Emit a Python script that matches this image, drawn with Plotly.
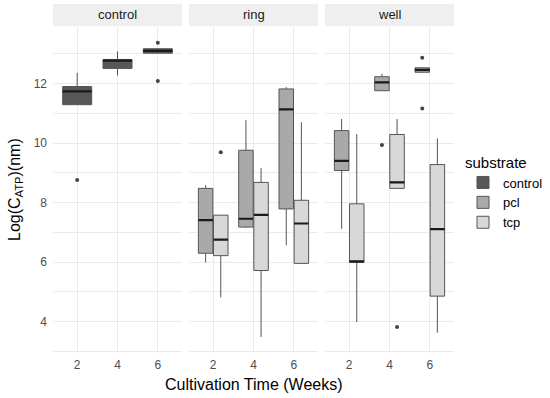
import plotly.graph_objects as go

# ---------------- data ----------------
panels = ["control", "ring", "well"]
weeks = [2, 4, 6]

# control substrate (control panel)
control_q1 = [11.29, 12.51, 13.02]
control_med = [11.74, 12.77, 13.10]
control_q3 = [11.90, 12.81, 13.17]
control_lo = [11.29, 12.27, 13.02]
control_hi = [12.36, 13.08, 13.17]
control_out = [[8.76], [], [13.37, 12.09]]

# ring panel
ring_pcl_q1 = [6.30, 7.18, 7.79]
ring_pcl_med = [7.41, 7.46, 11.13]
ring_pcl_q3 = [8.48, 9.76, 11.82]
ring_pcl_lo = [5.99, 7.15, 6.57]
ring_pcl_hi = [8.59, 10.77, 11.88]
ring_pcl_out = [[], [], []]

ring_tcp_q1 = [6.22, 5.72, 5.96]
ring_tcp_med = [6.76, 7.59, 7.30]
ring_tcp_q3 = [7.58, 8.68, 8.08]
ring_tcp_lo = [4.82, 3.49, 5.96]
ring_tcp_hi = [7.58, 9.16, 10.70]
ring_tcp_out = [[9.69], [], []]

# well panel
well_pcl_q1 = [9.08, 11.76, 12.38]
well_pcl_med = [9.40, 12.04, 12.46]
well_pcl_q3 = [10.42, 12.23, 12.53]
well_pcl_lo = [7.12, 11.76, 12.38]
well_pcl_hi = [10.81, 12.33, 12.53]
well_pcl_out = [[], [9.94], [12.87, 11.16]]

well_tcp_q1 = [5.99, 8.48, 4.86]
well_tcp_med = [6.03, 8.68, 7.11]
well_tcp_q3 = [7.96, 10.29, 9.28]
well_tcp_lo = [3.99, 8.48, 3.63]
well_tcp_hi = [10.30, 10.81, 10.16]
well_tcp_out = [[], [3.82], []]

y_ticks = [4, 6, 8, 10, 12]
x_ticks = [2, 4, 6]

fills = {"control": "#585858", "pcl": "#a9a9a9", "tcp": "#d8d8d8"}
edge = "#555555"

series = [
    ("x", "control", control_q1, control_med, control_q3, control_lo, control_hi, control_out),
    ("x2", "pcl", ring_pcl_q1, ring_pcl_med, ring_pcl_q3, ring_pcl_lo, ring_pcl_hi, ring_pcl_out),
    ("x2", "tcp", ring_tcp_q1, ring_tcp_med, ring_tcp_q3, ring_tcp_lo, ring_tcp_hi, ring_tcp_out),
    ("x3", "pcl", well_pcl_q1, well_pcl_med, well_pcl_q3, well_pcl_lo, well_pcl_hi, well_pcl_out),
    ("x3", "tcp", well_tcp_q1, well_tcp_med, well_tcp_q3, well_tcp_lo, well_tcp_hi, well_tcp_out),
]

fig = go.Figure()
shown = set()
for xa, sub, q1, med, q3, lo, hi, out in series:
    # sample points per box: the median (inside the box, hidden) plus outliers
    pts = [[m] + list(o) for m, o in zip(med, out)]
    fig.add_trace(go.Box(
        x=weeks, y=pts, q1=q1, median=med, q3=q3, lowerfence=lo, upperfence=hi,
        xaxis=xa, yaxis="y", name=sub, legendgroup=sub, offsetgroup=sub,
        showlegend=sub not in shown,
        fillcolor=fills[sub], line=dict(color=edge, width=1),
        whiskerwidth=0, boxpoints="outliers", pointpos=0, jitter=0,
        marker=dict(color="#444444", size=4, line=dict(width=0)),
        hoverinfo="skip",
    ))
    shown.add(sub)
    # thick dark median line overlay (ggplot style)
    fig.add_trace(go.Box(
        x=weeks, q1=med, median=med, q3=med, lowerfence=med, upperfence=med,
        xaxis=xa, yaxis="y", name=sub, legendgroup=sub, offsetgroup=sub,
        showlegend=False, fillcolor="rgba(0,0,0,0)",
        line=dict(color="#1a1a1a", width=2.2), whiskerwidth=0,
        boxpoints=False, hoverinfo="skip",
    ))

W, H = 550, 398
L, R, T, B = 53, 96, 27, 45
pw = W - L - R
ph = H - T - B
doms = [(0, 129 / pw), (136 / pw, 265 / pw), (272 / pw, 1)]

grid = "#ebebeb"
FONT = "Liberation Sans, Arial, sans-serif"
tickfont = dict(family=FONT, size=12, color="#4d4d4d")

for i, (d0, d1) in enumerate(doms):
    key = "xaxis" if i == 0 else f"xaxis{i + 1}"
    fig.layout[key] = dict(
        domain=[d0, d1], range=[0.8, 7.2], anchor="y",
        tickmode="array", tickvals=x_ticks, ticktext=[str(v) for v in x_ticks],
        showgrid=True, gridcolor=grid, gridwidth=1, zeroline=False,
        showline=False, ticks="", tickfont=tickfont, ticklabelstandoff=3,
    )

fig.layout["yaxis"] = dict(
    range=[2.95, 13.9], tickmode="array", tickvals=y_ticks,
    ticktext=[str(v) for v in y_ticks], showgrid=True, gridcolor=grid, gridwidth=1,
    minor=dict(tickvals=[3, 5, 7, 9, 11, 13], showgrid=True, gridcolor=grid, gridwidth=1, ticks=""),
    zeroline=False, showline=False, ticks="", tickfont=tickfont, ticklabelstandoff=5,
)

shapes = []
annotations = []
strip_h = 22 / ph
for (d0, d1), name in zip(doms, panels):
    shapes.append(dict(type="rect", xref="paper", yref="paper", x0=d0, x1=d1,
                       y0=1 + 1 / ph, y1=1 + 1 / ph + strip_h, fillcolor="#efefef",
                       line=dict(width=0), layer="below"))
    annotations.append(dict(text=name, xref="paper", yref="paper", x=(d0 + d1) / 2,
                            y=1 + 1 / ph + strip_h / 2, showarrow=False, xanchor="center",
                            yanchor="middle",
                            font=dict(family=FONT, size=13, color="#1a1a1a")))

annotations.append(dict(text="Cultivation Time (Weeks)", xref="paper", yref="paper",
                        x=0.5, y=(353 - 384) / ph, showarrow=False, xanchor="center", yanchor="middle",
                        font=dict(family=FONT, size=16, color="#000000")))
annotations.append(dict(text="Log(C<sub>ATP</sub>)(nm)", xref="paper", yref="paper",
                        x=(15 - L) / pw, y=(353 - 190) / ph, showarrow=False, xanchor="center",
                        yanchor="middle", textangle=-90,
                        font=dict(family=FONT, size=16, color="#000000")))

fig.update_layout(
    width=W, height=H, margin=dict(l=L, r=R, t=T, b=B, autoexpand=False),
    paper_bgcolor="white", plot_bgcolor="white",
    boxmode="group", boxgap=0.25, boxgroupgap=0.04,
    shapes=shapes, annotations=annotations,
    legend=dict(x=(463 - L) / pw, y=(353 - 148) / ph, xanchor="left", yanchor="top",
                title=dict(text="substrate", font=dict(family=FONT, size=15, color="#000000")),
                font=dict(family=FONT, size=13, color="#000000"),
                tracegroupgap=0, bgcolor="rgba(0,0,0,0)"),
    font=dict(family=FONT),
)

fig.write_html("out.html", config={"displayModeBar": False},
               post_script="document.body.style.margin='0';")
